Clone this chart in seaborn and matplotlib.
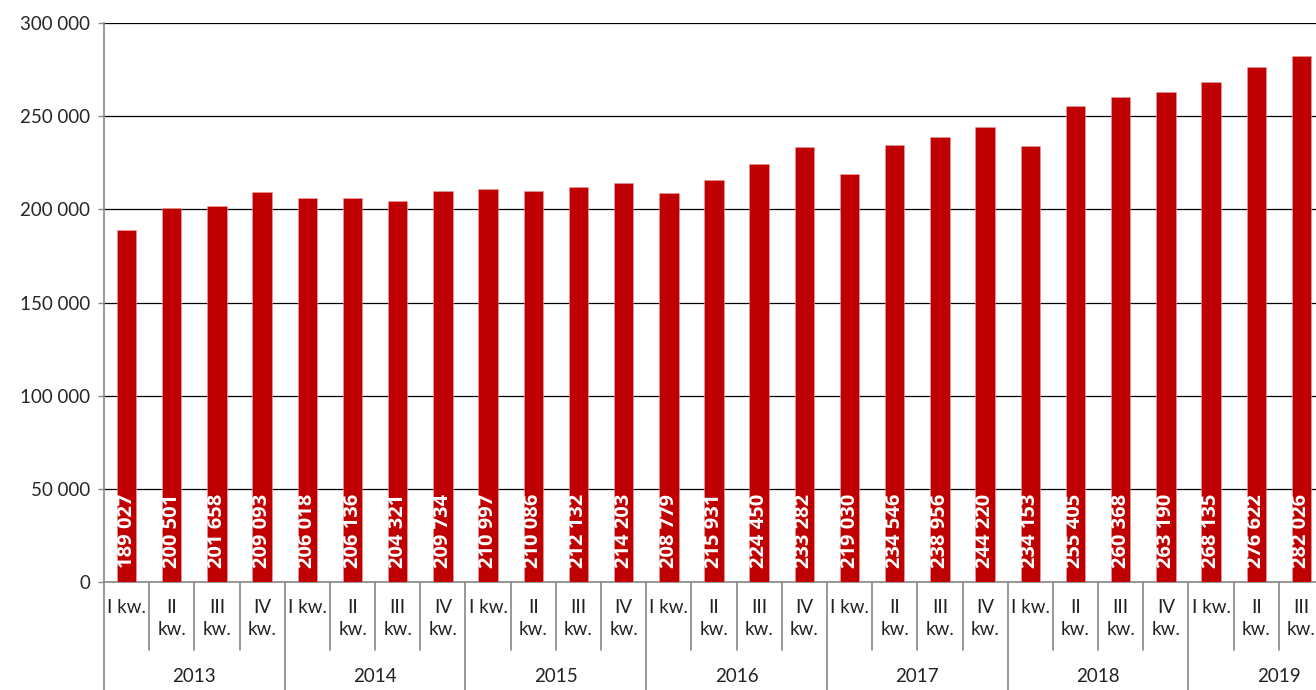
import numpy as np
import pandas as pd
import matplotlib
matplotlib.use('Agg')
import matplotlib.pyplot as plt
import matplotlib.transforms as mtransforms
import seaborn as sns

# quarterly values
years = ['2013', '2014', '2015', '2016', '2017', '2018', '2019']
quarters = ['I kw.', 'II\nkw.', 'III\nkw.', 'IV\nkw.']
values = [189027, 200501, 201658, 209093,
          206018, 206136, 204321, 209734,
          210997, 210086, 212132, 214203,
          208779, 215931, 224450, 233282,
          219030, 234546, 238956, 244220,
          234153, 255405, 260368, 263190,
          268135, 276622, 282026]
y_ticks = [0, 50000, 100000, 150000, 200000, 250000, 300000]

n = len(values)
df = pd.DataFrame({'idx': np.arange(n), 'value': values})

sns.set_style('white')
plt.rcParams['font.family'] = ['Lato', 'DejaVu Sans']

fig = plt.figure(figsize=(13.16, 6.9), dpi=100)
# plot area runs past the right edge like the cropped original
ax = fig.add_axes([104 / 1316, 108 / 690, 1220 / 1316, 559 / 690])

sns.barplot(data=df, x='idx', y='value', color='#C00000', width=0.43,
            saturation=1, edgecolor='#E8A0A0', linewidth=0.4, ax=ax, zorder=3)

ax.set_xlim(-0.5, n - 0.5)
ax.set_ylim(0, 300000)
ax.set_yticks(y_ticks)
ax.set_yticklabels([f'{v:,}'.replace(',', ' ') for v in y_ticks], fontsize=13.5)
ax.yaxis.grid(True, color='black', linewidth=0.9, zorder=0)
ax.set_axisbelow(True)
ax.tick_params(axis='y', length=4, color='#888888', width=1, pad=6, left=True)
ax.set_xticks([])
ax.set_xlabel('')
ax.set_ylabel('')
for s in ['top', 'right']:
    ax.spines[s].set_visible(False)
ax.spines['left'].set_color('#888888')
ax.spines['left'].set_linewidth(1.2)
ax.spines['bottom'].set_color('#888888')
ax.spines['bottom'].set_linewidth(1.2)

# value labels inside bars
for i, v in enumerate(values):
    ax.annotate(f'{v:,}'.replace(',', ' '), xy=(i, 0), xytext=(0, 10),
                textcoords='offset points', rotation=90, ha='center', va='bottom',
                color='white', fontsize=14.5, fontweight='bold',
                family=['Open Sans', 'DejaVu Sans'], zorder=5)

# two-level category axis
trans = mtransforms.blended_transform_factory(ax.transData, ax.transAxes)
for i in range(n):
    ax.annotate(quarters[i % 4], xy=(i, 0), xycoords=trans, xytext=(0, -12),
                textcoords='offset points', ha='center', va='top',
                fontsize=13.5, linespacing=1.35, color='#222222')
for i in range(n + 1):
    if i % 4 == 0:
        ax.plot([i - 0.5, i - 0.5], [0, -0.25], transform=trans, color='#888888',
                linewidth=1.2, clip_on=False)
    else:
        ax.plot([i - 0.5, i - 0.5], [0, -0.1216], transform=trans, color='#888888',
                linewidth=1.2, clip_on=False)
for k, y in enumerate(years):
    ax.annotate(y, xy=(k * 4 + 1.5, 0), xycoords=trans, xytext=(0, -68),
                textcoords='offset points', ha='center', va='center',
                fontsize=13.5, color='#222222')

fig.savefig('out.png', dpi=100)
